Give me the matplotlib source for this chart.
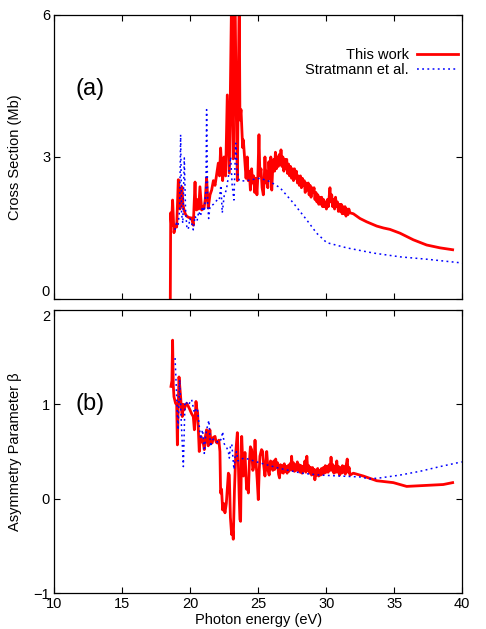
import matplotlib
matplotlib.use('Agg')
import matplotlib.pyplot as plt

plt.rcParams['font.family'] = ['Liberation Sans', 'DejaVu Sans']

# ===== (a) cross section, this work =====
e_sig_work = [18.53, 18.56, 18.62, 18.70, 18.80, 18.90, 19.00, 19.12, 19.24, 19.31,
              19.39, 19.46, 19.54, 19.63, 19.73, 19.90, 20.10, 20.22, 20.35, 20.41,
              20.47, 20.55, 20.62, 20.71, 20.84, 20.92, 21.01, 21.10, 21.20, 21.32,
              21.45, 21.57, 21.70, 21.82, 21.95, 22.06, 22.15, 22.23, 22.30, 22.38,
              22.48, 22.60, 22.72, 22.87, 22.95, 23.04, 23.10, 23.16, 23.22, 23.29,
              23.38, 23.46, 23.53, 23.60, 23.65, 23.73, 23.85, 23.90,
              24.02, 24.10, 24.19, 24.26, 24.34, 24.42, 24.51, 24.58, 24.66, 24.74,
              24.82, 24.90, 24.97, 25.05, 25.12, 25.20, 25.28, 25.37, 25.44, 25.49,
              25.56, 25.62, 25.70, 25.78, 25.85, 25.92, 25.99, 26.06, 26.13, 26.20,
              26.26, 26.33, 26.40, 26.47, 26.54, 26.61, 26.67, 26.74, 26.81, 26.88,
              26.95, 27.02, 27.09, 27.16, 27.23, 27.30, 27.37, 27.45, 27.52, 27.59,
              27.66, 27.73, 27.80, 27.88, 27.95, 28.02, 28.10, 28.17, 28.24, 28.31,
              28.38, 28.45, 28.52, 28.60, 28.67, 28.74, 28.81, 28.88, 28.95, 29.03,
              29.10, 29.17, 29.24, 29.31, 29.38, 29.45, 29.52, 29.59, 29.66, 29.73,
              29.80, 29.87, 29.94, 30.01, 30.08, 30.15, 30.22, 30.27, 30.33, 30.40,
              30.47, 30.54, 30.61, 30.68, 30.75, 30.82, 30.89, 30.96, 31.03, 31.10,
              31.17, 31.24, 31.31, 31.38, 31.45, 31.52, 31.59, 31.66, 31.74,
              31.99, 32.48, 32.97, 33.46, 33.71, 34.20, 34.68, 35.42, 36.40,
              37.38, 38.36, 39.29]
sig_work = [0.0, 1.82, 1.55, 2.09, 1.40, 1.55, 1.52, 2.52, 1.90, 2.10,
            2.37, 2.00, 1.88, 1.80, 1.75, 1.72, 1.71, 1.56, 2.47, 1.90,
            1.88, 2.10, 1.90, 2.37, 1.88, 1.95, 1.92, 2.10, 2.56, 1.92,
            2.20, 2.30, 2.50, 2.40, 2.65, 2.87, 2.60, 3.19, 2.80, 2.50,
            3.00, 2.60, 4.31, 2.66, 4.50, 6.50, 4.00, 2.96, 5.50, 6.50,
            4.00, 2.50, 4.50, 6.50, 3.78, 4.00, 3.20, 3.36,
            2.87, 2.55, 3.00, 2.50, 2.70, 2.30, 2.75, 2.45, 2.60, 2.25,
            2.55, 2.20, 2.60, 3.47, 2.60, 2.75, 2.35, 2.20, 2.55, 3.00,
            2.45, 2.70, 2.35, 2.90, 2.55, 3.00, 2.30, 2.75, 2.95, 2.70,
            3.10, 2.75, 3.00, 2.80, 3.05, 2.85, 3.15, 2.80, 3.00, 2.70,
            2.95, 2.75, 2.95, 2.65, 2.85, 2.60, 2.80, 2.55, 2.75, 2.50,
            2.75, 2.55, 2.70, 2.45, 2.60, 2.40, 2.60, 2.35, 2.55, 2.40,
            2.50, 2.25, 2.45, 2.30, 2.45, 2.20, 2.40, 2.15, 2.35, 2.25,
            2.35, 2.10, 2.25, 2.05, 2.20, 2.00, 2.15, 2.00, 2.15, 1.95,
            2.10, 1.95, 2.05, 1.90, 2.10, 1.95, 2.20, 2.35, 2.05, 2.20,
            1.95, 2.10, 1.90, 2.15, 1.95, 2.05, 1.85, 2.00, 1.85, 2.00,
            1.80, 1.95, 1.80, 1.95, 1.75, 1.90, 1.78, 1.90, 1.82,
            1.80, 1.70, 1.63, 1.57, 1.54, 1.50, 1.47, 1.39, 1.25,
            1.14, 1.08, 1.04]

# ===== (a) cross section, Stratmann et al. =====
e_sig_strat = [18.87, 18.98, 19.10, 19.22, 19.29, 19.36, 19.45, 19.56, 19.65, 19.75,
               19.85, 19.97, 20.10, 20.22, 20.35, 20.50, 20.62, 20.75, 20.90, 21.03,
               21.15, 21.20, 21.28, 21.35, 21.45, 21.70, 22.00, 22.13, 22.25, 22.35,
               22.50, 22.65, 22.80, 22.97, 23.08, 23.21, 23.34, 23.45, 23.60, 23.80,
               24.02, 24.50, 25.13, 25.86, 26.60, 27.57, 28.56, 29.29, 30.03, 31.50,
               33.46, 35.42, 37.38, 40.00]
sig_strat = [1.46, 1.60, 1.55, 1.90, 3.47, 1.80, 1.60, 2.98, 1.90, 1.50,
             1.47, 1.70, 1.60, 1.46, 1.75, 1.65, 1.85, 1.75, 1.95, 1.85,
             2.30, 4.00, 2.00, 1.70, 1.95, 2.00, 2.10, 2.09, 2.40, 1.82,
             2.20, 2.30, 2.58, 3.00, 2.40, 2.09, 3.29, 2.70, 2.50, 2.50,
             2.49, 2.52, 2.55, 2.48, 2.35, 2.03, 1.67, 1.39, 1.19, 1.08,
             0.97, 0.89, 0.84, 0.76]

# ===== (b) asymmetry parameter, this work =====
e_beta_work = [18.58, 18.65, 18.70, 18.75, 18.80, 18.92, 19.00, 19.05, 19.10, 19.17,
               19.22, 19.29, 19.35, 19.41, 19.48, 19.54, 19.63, 19.73, 19.85, 19.98,
               20.10, 20.22, 20.30, 20.36, 20.42, 20.48, 20.54, 20.60, 20.66, 20.72,
               20.79, 20.85, 20.92, 21.03, 21.10, 21.20, 21.26, 21.32, 21.38, 21.44,
               21.52, 21.61, 21.70, 21.82, 21.90, 21.98, 22.10, 22.18, 22.23, 22.30,
               22.38, 22.45, 22.55, 22.65, 22.72, 22.80, 22.87, 22.95, 23.04, 23.10,
               23.16, 23.25, 23.35, 23.46, 23.53, 23.60, 23.65, 23.70, 23.78, 23.90,
               23.97, 24.02, 24.08, 24.14, 24.20, 24.27, 24.35, 24.42, 24.51, 24.60,
               24.68, 24.76, 24.85, 24.92, 25.00, 25.07, 25.12, 25.24, 25.32, 25.40,
               25.49, 25.56, 25.62, 25.72, 25.80, 25.90,
               26.00, 26.07, 26.14, 26.21, 26.28, 26.35, 26.42, 26.49, 26.56, 26.63,
               26.70, 26.77, 26.84, 26.91, 26.98, 27.05, 27.12, 27.19, 27.26, 27.33,
               27.40, 27.45, 27.52, 27.59, 27.66, 27.73, 27.80, 27.87, 27.94, 28.01,
               28.08, 28.15, 28.22, 28.29, 28.36, 28.43, 28.50, 28.57, 28.64, 28.71,
               28.78, 28.85, 28.92, 28.99, 29.06, 29.13, 29.16, 29.23, 29.30, 29.37,
               29.44, 29.51, 29.58, 29.65, 29.72, 29.79, 29.86, 29.93, 30.00, 30.07,
               30.14, 30.21, 30.28, 30.35, 30.42, 30.49, 30.56, 30.63, 30.70, 30.77,
               30.84, 30.91, 30.98, 31.05, 31.12, 31.19, 31.26, 31.33, 31.40, 31.47,
               31.54, 31.61, 31.68, 31.74, 31.99, 32.72, 33.71,
               34.93, 35.91, 36.60, 37.38, 38.60, 39.29]
beta_work = [1.19, 1.25, 1.68, 1.20, 1.08, 1.01, 1.00, 0.57, 0.90, 1.29,
             1.20, 1.08, 0.95, 0.87, 1.00, 0.94, 0.98, 1.01, 0.98, 0.94,
             0.90, 0.87, 0.73, 0.85, 1.03, 0.95, 0.91, 0.70, 0.50, 0.62,
             0.66, 0.60, 0.62, 0.52, 0.65, 0.73, 0.60, 0.56, 0.62, 0.73,
             0.60, 0.59, 0.65, 0.66, 0.60, 0.59, 0.62, 0.50, 0.06, 0.10,
             -0.12, -0.05, -0.15, -0.05, 0.10, 0.27, 0.25, -0.20, -0.38, -0.30,
             -0.43, 0.10, 0.50, 0.70, 0.40, 0.00, -0.22, -0.24, 0.66, 0.24,
             0.35, 0.49, 0.30, 0.10, 0.20, 0.06, 0.40, 0.55, 0.52, 0.30,
             0.35, 0.62, 0.35, 0.20, -0.01, 0.30, 0.45, 0.52, 0.50, 0.35,
             0.24, 0.35, 0.50, 0.30, 0.25, 0.40,
             0.38, 0.30, 0.40, 0.31, 0.42, 0.33, 0.38, 0.26, 0.22, 0.36,
             0.28, 0.35, 0.27, 0.37, 0.29, 0.34, 0.27, 0.35, 0.29, 0.37,
             0.31, 0.45, 0.30, 0.38, 0.29, 0.36, 0.30, 0.39, 0.30, 0.36,
             0.28, 0.35, 0.27, 0.34, 0.30, 0.40, 0.28, 0.45, 0.30, 0.35,
             0.27, 0.33, 0.25, 0.33, 0.26, 0.31, 0.20, 0.30, 0.25, 0.32,
             0.24, 0.30, 0.25, 0.32, 0.26, 0.33, 0.27, 0.35, 0.28, 0.34,
             0.28, 0.36, 0.30, 0.44, 0.30, 0.36, 0.27, 0.34, 0.28, 0.40,
             0.28, 0.34, 0.25, 0.33, 0.27, 0.35, 0.28, 0.34, 0.26, 0.36,
             0.42, 0.28, 0.33, 0.25, 0.27, 0.24, 0.19,
             0.17, 0.13, 0.135, 0.14, 0.15, 0.17]

# ===== (b) asymmetry parameter, Stratmann et al. =====
e_beta_strat = [18.88, 18.98, 19.10, 19.22, 19.34, 19.49, 19.61, 19.72, 19.85, 19.97,
                20.10, 20.20, 20.30, 20.42, 20.52, 20.60, 20.66, 20.76, 20.85, 20.91,
                21.03, 21.12, 21.20, 21.37, 21.49, 21.60, 21.69, 21.85, 22.00, 22.18,
                22.30, 22.38, 22.50, 22.65, 22.80, 22.87, 22.95, 23.05, 23.21, 23.30,
                23.40, 23.51, 23.70, 24.02, 25.10, 26.60, 28.20, 29.54, 31.00, 32.48,
                33.20, 33.95, 35.42, 36.89, 38.36, 39.96]
beta_strat = [1.49, 1.15, 0.73, 1.26, 0.80, 0.34, 1.03, 1.02, 0.99, 1.02,
              1.05, 0.98, 0.91, 0.95, 0.96, 0.85, 0.77, 0.63, 0.70, 0.73,
              0.48, 0.65, 0.73, 0.83, 0.55, 0.62, 0.63, 0.62, 0.60, 0.60,
              0.65, 0.71, 0.58, 0.55, 0.50, 0.43, 0.55, 0.58, 0.31, 0.45,
              0.50, 0.40, 0.42, 0.43, 0.38, 0.32, 0.27, 0.25, 0.24, 0.23,
              0.21, 0.22, 0.25, 0.29, 0.34, 0.39]

red = '#ff0000'
blue = '#0000ff'
dots = (0, (1.2, 2.2))

fig = plt.figure(figsize=(4.86, 6.29), dpi=100)
ax1 = fig.add_axes([0.1117, 0.5247, 0.8395, 0.4515])
ax2 = fig.add_axes([0.1117, 0.0572, 0.8395, 0.4500])

ax1.plot(e_sig_work, sig_work, color=red, lw=2.0, label='This work')
ax1.plot(e_sig_strat, sig_strat, color=blue, lw=1.1, linestyle=dots,
         label='Stratmann et al.')
ax2.plot(e_beta_work, beta_work, color=red, lw=2.0)
ax2.plot(e_beta_strat, beta_strat, color=blue, lw=1.1, linestyle=dots)

for ax in (ax1, ax2):
    ax.set_xlim(10, 40)
    ax.set_xticks([10, 15, 20, 25, 30, 35, 40])
    ax.tick_params(direction='in', top=True, right=True, length=4.5, width=0.8,
                   labelsize=10.5, pad=3)
    for s in ax.spines.values():
        s.set_linewidth(0.9)

ax1.set_ylim(0, 6)
ax1.set_yticks([0, 3, 6])
ax1.tick_params(labelbottom=False)
ax1.set_ylabel('Cross Section (Mb)', fontsize=10.5)
ax1.yaxis.set_label_coords(-0.079, 0.5)
ax1.get_yticklabels()[0].set_va('bottom')
ax1.text(0.0875, 0.739, '(a)', transform=ax1.transAxes, fontsize=17,
         ha='center', va='center')

ax2.set_ylim(-1, 2)
ax2.set_yticks([-1, 0, 1, 2])
ax2.get_yticklabels()[-1].set_va('top')
ax2.set_ylabel('Asymmetry Parameter β', fontsize=10.5)
ax2.yaxis.set_label_coords(-0.079, 0.5)
ax2.set_xlabel('Photon energy (eV)', fontsize=10.5, labelpad=1)
ax2.text(0.0875, 0.667, '(b)', transform=ax2.transAxes, fontsize=17,
         ha='center', va='center')

ax1.legend(loc='upper right', bbox_to_anchor=(0.99, 0.885), frameon=False,
           markerfirst=False, fontsize=10.5, handlelength=2.8, handletextpad=0.6,
           labelspacing=0.1, borderaxespad=0.0, borderpad=0.0)

plt.savefig('out.png', dpi=100)
plt.close()
